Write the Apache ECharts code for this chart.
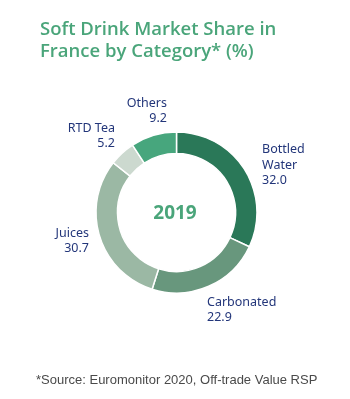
<!DOCTYPE html>
<html>
<head>
<meta charset="utf-8">
<script src="https://cdn.jsdelivr.net/npm/echarts@6/dist/echarts.min.js"></script>
<style>
html,body{margin:0;padding:0;background:#fff;}
#chart{width:350px;height:399px;}
</style>
</head>
<body>
<div id="chart"></div>
<script>
const categories = ['Bottled\nWater', 'Carbonated', 'Juices', 'RTD Tea', 'Others'];
const shares = [32.0, 22.9, 30.7, 5.2, 9.2];
const colors = ['#2a7858', '#68977d', '#9bb8a4', '#ccd9cf', '#47a67d'];
const titleText = 'Soft Drink Market Share in\nFrance by Category* (%)';
const centerText = '2019';
const sourceText = '*Source: Euromonitor 2020, Off-trade Value RSP';

// label anchor placement (x, y, align) per slice
const labelPlace = [
  {x: 262, y: 165, align: 'left'},
  {x: 207, y: 310, align: 'left'},
  {x: 89, y: 241, align: 'right'},
  {x: 115, y: 136, align: 'right'},
  {x: 167, y: 111, align: 'right'}
];

const chart = echarts.init(document.getElementById('chart'));
chart.setOption({
  animation: false,
  title: {
    text: titleText,
    left: 35, top: 14,
    textStyle: {color: '#4aa57a', fontFamily: 'Open Sans', fontWeight: 600, fontSize: 18.5, lineHeight: 22}
  },
  graphic: [
    {type: 'text', left: 'center', top: 204, style: {text: centerText, fill: '#4aa57a', font: 'bold 19px "Open Sans"'}},
    {type: 'text', left: 36, top: 374, style: {text: sourceText, fill: '#4a4a4a', font: '13px "Liberation Sans"'}}
  ],
  series: [{
    type: 'pie',
    center: [176.5, 212.5],
    radius: [59, 80.5],
    startAngle: 90,
    clockwise: true,
    avoidLabelOverlap: false,
    itemStyle: {borderColor: '#fff', borderWidth: 1.5},
    label: {
      show: true,
      formatter: p => p.name + '\n' + p.value.toFixed(1),
      color: '#23367a',
      fontFamily: 'Noto Sans',
      fontSize: 12.5,
      lineHeight: 15.5
    },
    labelLine: {show: false},
    labelLayout: p => {
      const L = labelPlace[p.dataIndex];
      return {x: L.x, y: L.y, align: L.align, verticalAlign: 'middle'};
    },
    emphasis: {disabled: true},
    data: categories.map((c, i) => ({name: c, value: shares[i], itemStyle: {color: colors[i]}}))
  }]
});
</script>
</body>
</html>
